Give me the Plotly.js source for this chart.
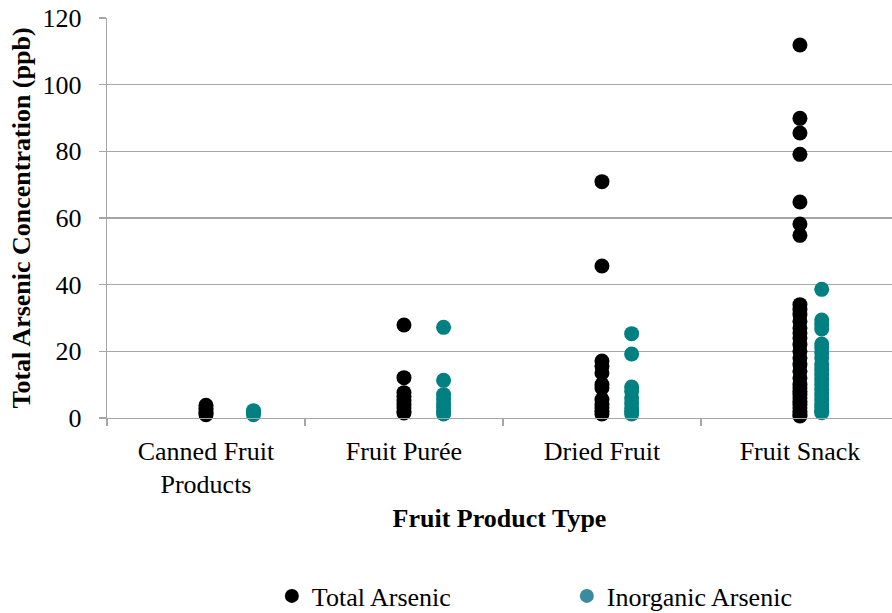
<!DOCTYPE html>
<html>
<head>
<meta charset="utf-8">
<script src="https://cdn.plot.ly/plotly-3.0.1.min.js"></script>
<style>html,body{margin:0;padding:0;background:#fff;}#chart{width:892px;height:613px;}</style>
</head>
<body>
<div id="chart"></div>
<script>
// Category labels and positions (x values as in the original scatter)
var categories = ["Canned Fruit<br>Products", "Fruit Purée", "Dried Fruit", "Fruit Snack"];
var categoryX = [1, 2, 3, 4];
var inorganicX = [1.24, 2.2, 3.15, 4.11];

// Total arsenic (ppb) per category
var totalCanned = [3.8, 3.0, 2.2, 1.5, 1.0];
var totalPuree = [27.9, 12.1, 7.6, 6.5, 5.2, 4.0, 3.0, 2.0, 1.5];
var totalDried = [70.9, 45.6, 17.1, 15.5, 13.5, 10.0, 9.0, 5.5, 4.0, 3.0, 2.0, 1.2];
var totalSnack = [111.9, 89.9, 85.5, 79.1, 64.8, 58.2, 54.8,
  34.0, 32.5, 31.0, 29.0, 27.0, 25.5, 24.0, 22.0, 20.0, 18.0, 16.0, 14.0, 12.0,
  10.0, 9.0, 8.0, 7.0, 6.0, 5.0, 4.0, 3.0, 2.0, 1.0, 0.6];

// Inorganic arsenic (ppb) per category
var inorgCanned = [2.2, 1.6, 1.0];
var inorgPuree = [27.2, 11.3, 7.0, 5.5, 4.0, 3.0, 2.0, 1.2];
var inorgDried = [25.3, 19.2, 9.3, 8.0, 6.0, 4.5, 3.0, 2.0, 1.2];
var inorgSnack = [38.6, 29.4, 28.0, 26.7, 22.2, 21.0, 19.5, 18.0, 16.0, 14.5, 13.0,
  11.5, 10.0, 8.5, 7.0, 5.5, 4.0, 3.0, 2.0, 1.6];

var yTicks = [0, 20, 40, 60, 80, 100, 120];
var seriesNames = ["Total Arsenic", "Inorganic Arsenic"];

function expand(groups, xs) {
  var x = [], y = [];
  groups.forEach(function (g, i) {
    g.forEach(function (v) { x.push(xs[i]); y.push(v); });
  });
  return {x: x, y: y};
}
var tot = expand([totalCanned, totalPuree, totalDried, totalSnack], categoryX);
var ino = expand([inorgCanned, inorgPuree, inorgDried, inorgSnack], inorganicX);

var FONT = "Liberation Serif, Times New Roman, serif";
var teal = "#008080";
var grid = "#a6a6a6";

var traces = [
  {x: tot.x, y: tot.y, type: "scatter", mode: "markers", name: seriesNames[0],
   marker: {color: "#000000", size: 15, line: {width: 0}}, showlegend: false, cliponaxis: false},
  {x: ino.x, y: ino.y, type: "scatter", mode: "markers", name: seriesNames[1],
   marker: {color: teal, size: 15, line: {width: 0}}, showlegend: false, cliponaxis: false},
  {x: [null], y: [null], type: "scatter", mode: "markers", name: seriesNames[0],
   marker: {color: "#000000", size: 14}},
  {x: [null], y: [null], type: "scatter", mode: "markers", name: seriesNames[1],
   marker: {color: "#3a8ba0", size: 14}}
];

var layout = {
  width: 892, height: 613,
  margin: {l: 107, r: 0, t: 18, b: 195, autoexpand: false},
  paper_bgcolor: "#ffffff", plot_bgcolor: "#ffffff",
  font: {family: FONT, size: 26, color: "#000000"},
  showlegend: true,
  legend: {orientation: "h", x: 0.21, xanchor: "left", y: -0.445, yanchor: "middle",
    font: {family: FONT, size: 26, color: "#000000"}, entrywidthmode: "pixels", entrywidth: 250,
    bgcolor: "rgba(0,0,0,0)"},
  xaxis: {
    range: [0.5, 4.465], tickmode: "array", tickvals: categoryX, ticktext: categories,
    ticks: "", showgrid: false, zeroline: false, showline: true, linecolor: grid, linewidth: 1.3,
    tickfont: {family: FONT, size: 26, color: "#000000"}, ticklabelstandoff: 9,
    minor: {tickmode: "array", tickvals: [0.5, 1.5, 2.5, 3.5], ticks: "outside", ticklen: 7,
      tickcolor: grid, tickwidth: 1.3, showgrid: false},
    title: {text: "<b>Fruit Product Type</b>", font: {family: FONT, size: 26, color: "#000000"}, standoff: 10},
    automargin: false, fixedrange: true
  },
  yaxis: {
    range: [0, 120], tickmode: "array", tickvals: yTicks,
    ticks: "outside", ticklen: 7, tickcolor: grid, tickwidth: 1.3,
    showgrid: true, gridcolor: grid, gridwidth: 1.3, zeroline: false,
    showline: true, linecolor: grid, linewidth: 1.3,
    tickfont: {family: FONT, size: 26, color: "#000000"}, ticklabelstandoff: 12,
    title: {text: "<b>Total Arsenic Concentration (ppb)</b>", font: {family: FONT, size: 26, color: "#000000"}, standoff: 4},
    automargin: false, fixedrange: true
  }
};

Plotly.newPlot("chart", traces, layout, {displayModeBar: false, staticPlot: true});
</script>
</body>
</html>
